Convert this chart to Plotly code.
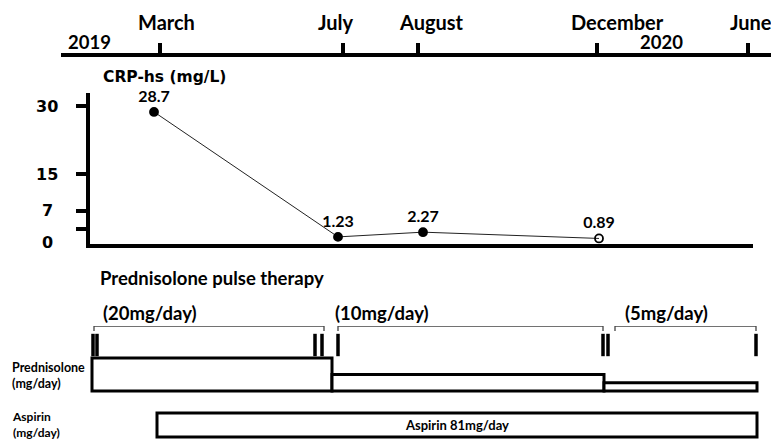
import plotly.graph_objects as go

# ---------------- data ----------------
month_labels = ["March", "July", "August", "December", "June"]
month_t = [160, 343, 418, 597, 748]          # schematic timeline positions
year_labels = ["2019", "2020"]
year_t = [89, 661]

crp_t = [154, 338, 423, 599]
crp_values = [28.7, 1.23, 2.27, 0.89]
crp_labels = ["28.7", "1.23", "2.27", "0.89"]
crp_tickvals = [3, 7, 15, 30]
crp_labelvals = [0, 7, 15, 30]
crp_labeltext = ["0", "7", "15", "30"]

pred_start = [92, 332, 604]
pred_end = [332, 604, 757]
pred_dose = [20, 10, 5]
pred_labels = ["(20mg/day)", "(10mg/day)", "(5mg/day)"]

bracket_start = [94, 338, 615]
bracket_end = [324, 603, 756]

pulse_t = [93, 97, 315, 322, 338, 603, 608, 756]

aspirin_start = [157]
aspirin_end = [757]
aspirin_level = [1]
aspirin_text = ["Aspirin 81mg/day"]

# ---------------- style ----------------
W, H = 771, 441
FONT = "Lato"
WIDE = "DejaVu Sans"
month_shift = [6, -7, 13, 20, 3]
label_shift = [7, -5, 8]


def py(px):
    return 1 - px / H


def bold(size, family=FONT):
    return dict(family=family, size=size, color="black", weight="bold")


fig = go.Figure()

# CRP line
fig.add_trace(go.Scatter(
    x=crp_t, y=crp_values, xaxis="x2", yaxis="y",
    mode="lines+markers+text",
    line=dict(color="#222", width=1),
    marker=dict(symbol=["circle", "circle", "circle", "circle-open"], size=8,
                color="black", line=dict(color="black", width=1.8)),
    text=crp_labels, textposition="top center", textfont=bold(16),
    cliponaxis=False, showlegend=False, hoverinfo="skip"))

# timeline anchor trace (invisible, keeps the timeline axis drawn)
fig.add_trace(go.Scatter(x=month_t, y=[0] * len(month_t), xaxis="x3", yaxis="y8",
                         mode="markers", marker=dict(opacity=0),
                         showlegend=False, hoverinfo="skip"))

# brackets for prednisolone periods
bx, by = [], []
for s, e in zip(bracket_start, bracket_end):
    bx += [s, s, e, e, None]
    by += [0, 1, 1, 0, None]
fig.add_trace(go.Scatter(x=bx, y=by, xaxis="x", yaxis="y6", mode="lines",
                         line=dict(color="#444", width=1.3),
                         showlegend=False, hoverinfo="skip", cliponaxis=False))

# pulse therapy markers
fig.add_trace(go.Scatter(x=pulse_t, y=[0.5] * len(pulse_t), xaxis="x", yaxis="y4",
                         mode="markers",
                         marker=dict(symbol="line-ns", size=16,
                                     line=dict(color="black", width=3.5)),
                         showlegend=False, hoverinfo="skip", cliponaxis=False))

# prednisolone dose bars
fig.add_trace(go.Bar(
    x=[(s + e) / 2 for s, e in zip(pred_start, pred_end)],
    width=[e - s for s, e in zip(pred_start, pred_end)],
    y=pred_dose, xaxis="x", yaxis="y3",
    marker=dict(color="white", line=dict(color="black", width=3)),
    showlegend=False, hoverinfo="skip", cliponaxis=False))

# aspirin bar
fig.add_trace(go.Bar(
    x=[(s + e) / 2 for s, e in zip(aspirin_start, aspirin_end)],
    width=[e - s for s, e in zip(aspirin_start, aspirin_end)],
    y=aspirin_level, xaxis="x", yaxis="y7",
    text=aspirin_text, textposition="inside", insidetextanchor="middle",
    textangle=0, textfont=bold(13),
    marker=dict(color="white", line=dict(color="black", width=3)),
    showlegend=False, hoverinfo="skip", cliponaxis=False))

annotations = []
for lab, t, sh in zip(month_labels, month_t, month_shift):
    annotations.append(dict(text=lab, x=t, xref="x", y=py(22), yref="paper",
                            xanchor="center", yanchor="middle", xshift=sh,
                            showarrow=False, font=bold(20)))
for lab, t in zip(year_labels, year_t):
    annotations.append(dict(text=lab, x=t, xref="x", y=py(42), yref="paper",
                            xanchor="center", yanchor="middle",
                            showarrow=False, font=bold(18.5)))
annotations.append(dict(text="CRP-hs (mg/L)", x=164, xref="x", y=py(77), yref="paper",
                        xanchor="center", yanchor="middle", showarrow=False,
                        font=bold(15.5, WIDE)))
for v, lab in zip(crp_labelvals, crp_labeltext):
    annotations.append(dict(text=lab, x=47, xref="x", y=v, yref="y",
                            xanchor="center", yanchor="middle", showarrow=False,
                            font=bold(16, WIDE)))
annotations.append(dict(text="Prednisolone pulse therapy", x=98 / W, xref="paper",
                        y=py(278), yref="paper", xanchor="left", yanchor="middle",
                        showarrow=False, font=bold(18.5)))
for lab, t, sh in zip(pred_labels, bracket_start, label_shift):
    annotations.append(dict(text=lab, x=t, xref="x", y=py(313), yref="paper",
                            xanchor="left", yanchor="middle", xshift=sh,
                            showarrow=False, font=bold(18.5)))
for lab, yy, sz in [("Prednisolone<br>(mg/day)", 375, 12.5), ("Aspirin<br>(mg/day)", 424, 12)]:
    annotations.append(dict(text=lab, x=10 / W, xref="paper", y=py(yy), yref="paper",
                            xanchor="left", yanchor="middle", align="left",
                            showarrow=False, font=bold(sz)))

zero_px, scale = 242.5, 4.55
crp_bottom, crp_top = 244, 93
crp_range = [(zero_px - crp_bottom) / scale, (zero_px - crp_top) / scale]
pred_zero, pred_scale = 391, 1.65
asp_zero, asp_scale = 437, 24

hidden = dict(visible=False, showgrid=False, zeroline=False, fixedrange=True)

fig.update_layout(
    width=W, height=H, margin=dict(l=0, r=0, t=0, b=0),
    paper_bgcolor="white", plot_bgcolor="rgba(0,0,0,0)",
    barmode="overlay", showlegend=False,
    annotations=annotations,
    xaxis=dict(range=[0, W], domain=[0, 1], **hidden),
    xaxis2=dict(range=[89.5, 753], domain=[89.5 / W, 753 / W], anchor="y",
                showline=True, linewidth=4, linecolor="black",
                showticklabels=False, ticks="", showgrid=False, zeroline=False),
    xaxis3=dict(range=[61, W], domain=[61 / W, 1], anchor="free", position=py(55),
                side="top", showline=True, linewidth=4, linecolor="black",
                ticks="outside", ticklen=10, tickwidth=3.5, tickcolor="black",
                tickvals=month_t, showticklabels=False, showgrid=False, zeroline=False),
    yaxis=dict(range=crp_range, domain=[py(crp_bottom), py(crp_top)], anchor="x2",
               side="left", showline=True, linewidth=4, linecolor="black",
               ticks="outside", ticklen=10, tickwidth=4, tickcolor="black",
               tickvals=crp_tickvals, showticklabels=False,
               showgrid=False, zeroline=False),
    yaxis3=dict(range=[(pred_zero - 395) / pred_scale, (pred_zero - 350) / pred_scale],
                domain=[py(395), py(350)], anchor="x", **hidden),
    yaxis4=dict(range=[0, 1], domain=[py(356), py(334)], anchor="x", **hidden),
    yaxis6=dict(range=[0, 1], domain=[py(331), py(326)], anchor="x", **hidden),
    yaxis7=dict(range=[(asp_zero - 440) / asp_scale, (asp_zero - 410) / asp_scale],
                domain=[py(440), py(410)], anchor="x", **hidden),
    yaxis8=dict(range=[0, 1], domain=[py(60), py(40)], anchor="x3", **hidden),
)

fig.write_html("out.html", config={"displayModeBar": False},
               post_script="document.body.style.margin='0px';")
